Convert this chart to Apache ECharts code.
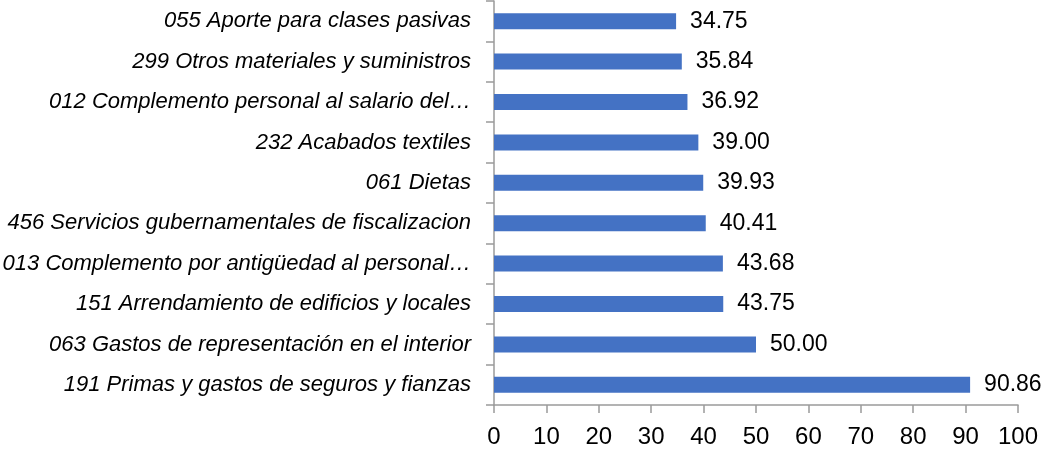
<!DOCTYPE html>
<html>
<head>
<meta charset="utf-8">
<script src="https://cdn.jsdelivr.net/npm/echarts@6/dist/echarts.min.js"></script>
<style>
  html, body { margin: 0; padding: 0; background: #fff; }
  #chart { width: 1046px; height: 452px; }
</style>
</head>
<body>
<div id="chart"></div>
<script>
// categorias (de arriba hacia abajo)
const categories = [
  "055 Aporte para clases pasivas",
  "299 Otros materiales y suministros",
  "012 Complemento personal al salario del…",
  "232 Acabados textiles",
  "061 Dietas",
  "456 Servicios gubernamentales de fiscalizacion",
  "013 Complemento por antigüedad al personal…",
  "151 Arrendamiento de edificios y locales",
  "063 Gastos de representación en el interior",
  "191 Primas y gastos de seguros y fianzas"
];
const values = [34.75, 35.84, 36.92, 39.0, 39.93, 40.41, 43.68, 43.75, 50.0, 90.86];
const xTicks = [0, 10, 20, 30, 40, 50, 60, 70, 80, 90, 100];

const font = "'Liberation Sans Narrow', 'Arial Narrow', 'Liberation Sans', Arial, sans-serif";
const axisColor = "#9a9a9a";

const myChart = echarts.init(document.getElementById("chart"));

const option = {
  backgroundColor: "#fff",
  animation: false,
  grid: {
    left: 494,
    right: 28,
    top: 1,
    bottom: 47,
    containLabel: false,
    outerBoundsMode: "none"
  },
  xAxis: {
    type: "value",
    min: xTicks[0],
    max: xTicks[xTicks.length - 1],
    interval: 10,
    axisLine: { show: true, lineStyle: { color: axisColor, width: 1.5 } },
    axisTick: { show: true, length: 8, lineStyle: { color: axisColor, width: 1.5 } },
    splitLine: { show: false },
    axisLabel: { color: "#000", fontSize: 24, fontFamily: font, margin: 20 }
  },
  yAxis: {
    type: "category",
    inverse: true,
    data: categories,
    axisLine: { show: true, lineStyle: { color: axisColor, width: 1.5 } },
    axisTick: { show: true, length: 8, alignWithLabel: false, lineStyle: { color: axisColor, width: 1.5 } },
    axisLabel: {
      color: "#000",
      fontSize: 22,
      fontStyle: "italic",
      fontFamily: font,
      margin: 23
    }
  },
  series: [
    {
      type: "bar",
      data: values,
      barWidth: 16,
      itemStyle: { color: "#4472C4" },
      label: {
        show: true,
        position: "right",
        distance: 14,
        color: "#000",
        fontSize: 23,
        fontFamily: font,
        formatter: (p) => p.value.toFixed(2)
      }
    }
  ]
};

myChart.setOption(option);
</script>
</body>
</html>
